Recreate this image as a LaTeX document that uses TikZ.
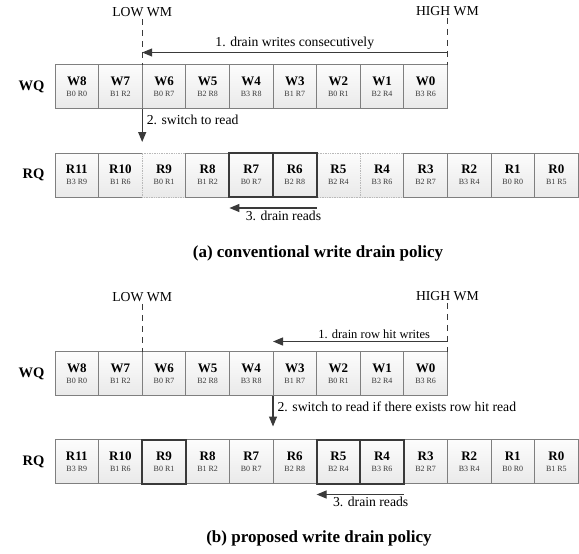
\documentclass[tikz,border=0pt]{standalone}
\usepackage{fontspec}
\setmainfont{Liberation Serif}
\usetikzlibrary{positioning,arrows.meta,calc}

\definecolor{edgegray}{HTML}{7F7F7F}
\definecolor{inkgray}{HTML}{3A3A3A}

\begin{document}
\begin{tikzpicture}[x=1pt, y=-1pt,
    qbox/.style={draw=edgegray, line width=0.7pt, top color=gray!2, bottom color=gray!17,
        minimum width=43.6pt, minimum height=44pt, inner sep=0pt, outer sep=0pt,
        align=center, font=\fontsize{13}{11}\selectfont},
    gone/.style={qbox, draw=gray!55, densely dotted},
    hit/.style={draw=inkgray, line width=2pt},
    wm/.style={draw=inkgray, line width=0.8pt, dash pattern=on 6pt off 5pt},
    flow/.style={draw=inkgray, line width=1.2pt, -{Triangle[length=10pt,width=8pt]}},
    note/.style={font=\fontsize{13.7}{15}\selectfont, inner sep=2pt},
    qname/.style={font=\fontsize{14.5}{16}\selectfont\bfseries},
    caption/.style={font=\fontsize{17}{19}\selectfont\bfseries}]
    \useasboundingbox (0,0) rectangle (579,554);

    % (a) conventional
    \foreach \n/\s [count=\i from 0] in {W8/B0 R0, W7/B1 R2, W6/B0 R7, W5/B2 R8, W4/B3 R8, W3/B1 R7, W2/B0 R1, W1/B2 R4, W0/B3 R6}
        \node[qbox] (a\n) at ({55+43.6*(\i+0.5)}, 86.5) {\textbf{\n}\\{\color{inkgray}\fontsize{8}{8}\selectfont\s}};
    \foreach \n/\s/\k [count=\i from 0] in {R11/B3 R9/qbox, R10/B1 R6/qbox, R9/B0 R1/gone, R8/B1 R2/qbox, R7/B0 R7/qbox, R6/B2 R8/qbox, R5/B2 R4/gone, R4/B3 R6/gone, R3/B2 R7/qbox, R2/B3 R4/qbox, R1/B0 R0/qbox, R0/B1 R5/qbox}
        \node[\k] (a\n) at ({55+43.6*(\i+0.5)}, 175) {\textbf{\n}\\{\color{inkgray}\fontsize{8}{8}\selectfont\s}};
    \draw[hit] (aR7.north west) rectangle (aR7.south east);
    \draw[hit] (aR6.north west) rectangle (aR6.south east);

    \node[qname, left=7pt of aW8] (aWQ) {WQ};
    \node[qname, left=7pt of aR11] (aRQ) {RQ};

    \node[note] (alow) at (aW7.north east |- 0,12) {LOW WM};
    \node[note] (ahigh) at (aW0.north east |- 0,11) {HIGH WM};
    \draw[wm] (alow) -- (aW7.north east);
    \draw[wm] (ahigh) -- (aW0.north east);

    \coordinate (a1from) at ($(aW0.north east)+(0,-12)$);
    \coordinate (a1to) at ($(aW7.north east)+(0,-12)$);
    \draw[flow] (a1from) -- (a1to) node[note, midway, above] (a1) {1. drain writes consecutively};

    \coordinate (a2to) at ($(aR10.north east)+(0,-11)$);
    \draw[flow] (aW7.south east) -- (a2to) node[note, pos=0.35, right, xshift=2pt] (a2) {2. switch to read};

    \coordinate (a3from) at ($(aR6.south east)+(0,11)$);
    \coordinate (a3to) at ($(aR7.south west)+(0,11)$);
    \draw[flow] (a3from) -- (a3to) node[note, pos=0.38, below] (a3) {3. drain reads};

    \node[caption] (acap) at (318,253) {(a) conventional write drain policy};

    % (b) proposed
    \foreach \n/\s [count=\i from 0] in {W8/B0 R0, W7/B1 R2, W6/B0 R7, W5/B2 R8, W4/B3 R8, W3/B1 R7, W2/B0 R1, W1/B2 R4, W0/B3 R6}
        \node[qbox] (b\n) at ({55+43.6*(\i+0.5)}, 373.5) {\textbf{\n}\\{\color{inkgray}\fontsize{8}{8}\selectfont\s}};
    \foreach \n/\s [count=\i from 0] in {R11/B3 R9, R10/B1 R6, R9/B0 R1, R8/B1 R2, R7/B0 R7, R6/B2 R8, R5/B2 R4, R4/B3 R6, R3/B2 R7, R2/B3 R4, R1/B0 R0, R0/B1 R5}
        \node[qbox] (b\n) at ({55+43.6*(\i+0.5)}, 461.5) {\textbf{\n}\\{\color{inkgray}\fontsize{8}{8}\selectfont\s}};
    \draw[hit] (bR9.north west) rectangle (bR9.south east);
    \draw[hit] (bR5.north west) rectangle (bR5.south east);
    \draw[hit] (bR4.north west) rectangle (bR4.south east);

    \node[qname, left=7pt of bW8] (bWQ) {WQ};
    \node[qname, left=7pt of bR11] (bRQ) {RQ};

    \node[note] (blow) at (bW7.north east |- 0,297) {LOW WM};
    \node[note] (bhigh) at (bW0.north east |- 0,296) {HIGH WM};
    \draw[wm] (blow) -- (bW7.north east);
    \draw[wm] (bhigh) -- (bW0.north east);

    \coordinate (b1from) at ($(bW0.north east)+(0,-10)$);
    \coordinate (b1to) at ($(bW4.north east)+(0,-10)$);
    \draw[flow] (b1from) -- (b1to) node[note, pos=0.42, above, font=\fontsize{12.5}{14}\selectfont] (b1) {1. drain row hit writes};

    \coordinate (b2to) at ($(bR7.north east)+(0,-13)$);
    \draw[flow] (bW4.south east) -- (b2to) node[note, pos=0.35, right, xshift=2pt] (b2) {2. switch to read if there exists row hit read};

    \coordinate (b3from) at ($(bR4.south east)+(0,11)$);
    \coordinate (b3to) at ($(bR6.south east)+(0,11)$);
    \draw[flow] (b3from) -- (b3to) node[note, pos=0.38, below] (b3) {3. drain reads};

    \node[caption] (bcap) at (319,538) {(b) proposed write drain policy};
\end{tikzpicture}
\end{document}
